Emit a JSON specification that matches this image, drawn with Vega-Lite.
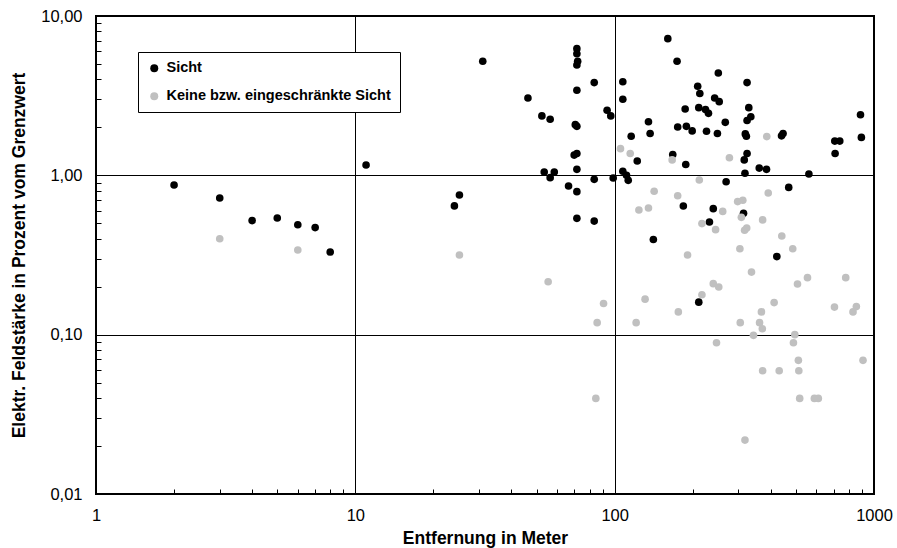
{
  "$schema": "https://vega.github.io/schema/vega-lite/v6.json",
  "width": 778,
  "height": 478,
  "autosize": {"type": "none"},
  "padding": {"left": 96, "top": 16, "right": 23, "bottom": 54},
  "background": "white",
  "data": {"values": [
    {"d": 2, "e": 0.87, "s": "Sicht"},
    {"d": 3, "e": 0.72, "s": "Sicht"},
    {"d": 4, "e": 0.52, "s": "Sicht"},
    {"d": 5, "e": 0.54, "s": "Sicht"},
    {"d": 6, "e": 0.49, "s": "Sicht"},
    {"d": 7, "e": 0.47, "s": "Sicht"},
    {"d": 8, "e": 0.33, "s": "Sicht"},
    {"d": 11, "e": 1.16, "s": "Sicht"},
    {"d": 31, "e": 5.2, "s": "Sicht"},
    {"d": 71.5, "e": 6.24, "s": "Sicht"},
    {"d": 71.5, "e": 5.8, "s": "Sicht"},
    {"d": 72, "e": 5.2, "s": "Sicht"},
    {"d": 71.5, "e": 4.93, "s": "Sicht"},
    {"d": 83.4, "e": 3.82, "s": "Sicht"},
    {"d": 107.5, "e": 3.87, "s": "Sicht"},
    {"d": 71.5, "e": 3.42, "s": "Sicht"},
    {"d": 46.3, "e": 3.06, "s": "Sicht"},
    {"d": 107.5, "e": 3.0, "s": "Sicht"},
    {"d": 52.4, "e": 2.36, "s": "Sicht"},
    {"d": 56.4, "e": 2.25, "s": "Sicht"},
    {"d": 93.5, "e": 2.56, "s": "Sicht"},
    {"d": 96.6, "e": 2.36, "s": "Sicht"},
    {"d": 70.5, "e": 2.08, "s": "Sicht"},
    {"d": 71.5, "e": 2.03, "s": "Sicht"},
    {"d": 69.8, "e": 1.34, "s": "Sicht"},
    {"d": 71.5, "e": 1.37, "s": "Sicht"},
    {"d": 71.5, "e": 1.09, "s": "Sicht"},
    {"d": 53.5, "e": 1.05, "s": "Sicht"},
    {"d": 56.4, "e": 0.967, "s": "Sicht"},
    {"d": 58.5, "e": 1.05, "s": "Sicht"},
    {"d": 66.4, "e": 0.857, "s": "Sicht"},
    {"d": 71.5, "e": 0.79, "s": "Sicht"},
    {"d": 83.4, "e": 0.944, "s": "Sicht"},
    {"d": 98.7, "e": 0.962, "s": "Sicht"},
    {"d": 71.5, "e": 0.537, "s": "Sicht"},
    {"d": 83.4, "e": 0.516, "s": "Sicht"},
    {"d": 25.2, "e": 0.753, "s": "Sicht"},
    {"d": 24.1, "e": 0.643, "s": "Sicht"},
    {"d": 122.2, "e": 1.23, "s": "Sicht"},
    {"d": 115.8, "e": 1.76, "s": "Sicht"},
    {"d": 107.5, "e": 1.06, "s": "Sicht"},
    {"d": 111.1, "e": 1.0, "s": "Sicht"},
    {"d": 112.8, "e": 0.93, "s": "Sicht"},
    {"d": 135, "e": 2.17, "s": "Sicht"},
    {"d": 137, "e": 1.83, "s": "Sicht"},
    {"d": 160.3, "e": 7.21, "s": "Sicht"},
    {"d": 174, "e": 5.2, "s": "Sicht"},
    {"d": 251, "e": 4.39, "s": "Sicht"},
    {"d": 324, "e": 3.82, "s": "Sicht"},
    {"d": 209, "e": 3.62, "s": "Sicht"},
    {"d": 213, "e": 3.26, "s": "Sicht"},
    {"d": 243, "e": 3.06, "s": "Sicht"},
    {"d": 253, "e": 2.9, "s": "Sicht"},
    {"d": 187, "e": 2.61, "s": "Sicht"},
    {"d": 211, "e": 2.66, "s": "Sicht"},
    {"d": 224, "e": 2.59, "s": "Sicht"},
    {"d": 230, "e": 2.45, "s": "Sicht"},
    {"d": 329, "e": 2.66, "s": "Sicht"},
    {"d": 324, "e": 2.21, "s": "Sicht"},
    {"d": 335, "e": 2.33, "s": "Sicht"},
    {"d": 887, "e": 2.4, "s": "Sicht"},
    {"d": 267, "e": 2.15, "s": "Sicht"},
    {"d": 175, "e": 2.01, "s": "Sicht"},
    {"d": 189, "e": 2.03, "s": "Sicht"},
    {"d": 199, "e": 1.9, "s": "Sicht"},
    {"d": 226, "e": 1.89, "s": "Sicht"},
    {"d": 249, "e": 1.83, "s": "Sicht"},
    {"d": 319, "e": 1.82, "s": "Sicht"},
    {"d": 322, "e": 1.76, "s": "Sicht"},
    {"d": 440, "e": 1.77, "s": "Sicht"},
    {"d": 446, "e": 1.83, "s": "Sicht"},
    {"d": 706, "e": 1.64, "s": "Sicht"},
    {"d": 738, "e": 1.64, "s": "Sicht"},
    {"d": 894, "e": 1.73, "s": "Sicht"},
    {"d": 708, "e": 1.37, "s": "Sicht"},
    {"d": 167.5, "e": 1.35, "s": "Sicht"},
    {"d": 188, "e": 1.17, "s": "Sicht"},
    {"d": 324, "e": 1.37, "s": "Sicht"},
    {"d": 316, "e": 1.25, "s": "Sicht"},
    {"d": 318, "e": 1.03, "s": "Sicht"},
    {"d": 361, "e": 1.11, "s": "Sicht"},
    {"d": 385, "e": 1.09, "s": "Sicht"},
    {"d": 561, "e": 1.02, "s": "Sicht"},
    {"d": 269, "e": 0.912, "s": "Sicht"},
    {"d": 469, "e": 0.84, "s": "Sicht"},
    {"d": 184, "e": 0.642, "s": "Sicht"},
    {"d": 240, "e": 0.618, "s": "Sicht"},
    {"d": 314, "e": 0.578, "s": "Sicht"},
    {"d": 232, "e": 0.509, "s": "Sicht"},
    {"d": 141, "e": 0.396, "s": "Sicht"},
    {"d": 422, "e": 0.309, "s": "Sicht"},
    {"d": 211, "e": 0.16, "s": "Sicht"},
    {"d": 3, "e": 0.4, "s": "Keine bzw. eingeschränkte Sicht"},
    {"d": 6, "e": 0.34, "s": "Keine bzw. eingeschränkte Sicht"},
    {"d": 25.2, "e": 0.316, "s": "Keine bzw. eingeschränkte Sicht"},
    {"d": 105.3, "e": 1.47, "s": "Keine bzw. eingeschränkte Sicht"},
    {"d": 114.8, "e": 1.37, "s": "Keine bzw. eingeschränkte Sicht"},
    {"d": 386, "e": 1.75, "s": "Keine bzw. eingeschränkte Sicht"},
    {"d": 166.6, "e": 1.25, "s": "Keine bzw. eingeschränkte Sicht"},
    {"d": 277, "e": 1.29, "s": "Keine bzw. eingeschränkte Sicht"},
    {"d": 212, "e": 0.935, "s": "Keine bzw. eingeschränkte Sicht"},
    {"d": 142, "e": 0.795, "s": "Keine bzw. eingeschränkte Sicht"},
    {"d": 175, "e": 0.745, "s": "Keine bzw. eingeschränkte Sicht"},
    {"d": 391, "e": 0.775, "s": "Keine bzw. eingeschränkte Sicht"},
    {"d": 124, "e": 0.606, "s": "Keine bzw. eingeschränkte Sicht"},
    {"d": 135, "e": 0.624, "s": "Keine bzw. eingeschränkte Sicht"},
    {"d": 261, "e": 0.594, "s": "Keine bzw. eingeschränkte Sicht"},
    {"d": 298, "e": 0.684, "s": "Keine bzw. eingeschränkte Sicht"},
    {"d": 312, "e": 0.697, "s": "Keine bzw. eingeschränkte Sicht"},
    {"d": 308, "e": 0.545, "s": "Keine bzw. eingeschränkte Sicht"},
    {"d": 372, "e": 0.525, "s": "Keine bzw. eingeschränkte Sicht"},
    {"d": 217, "e": 0.498, "s": "Keine bzw. eingeschränkte Sicht"},
    {"d": 245, "e": 0.456, "s": "Keine bzw. eingeschränkte Sicht"},
    {"d": 317, "e": 0.452, "s": "Keine bzw. eingeschränkte Sicht"},
    {"d": 323, "e": 0.467, "s": "Keine bzw. eingeschränkte Sicht"},
    {"d": 441, "e": 0.416, "s": "Keine bzw. eingeschränkte Sicht"},
    {"d": 304, "e": 0.346, "s": "Keine bzw. eingeschränkte Sicht"},
    {"d": 486, "e": 0.346, "s": "Keine bzw. eingeschränkte Sicht"},
    {"d": 191, "e": 0.316, "s": "Keine bzw. eingeschränkte Sicht"},
    {"d": 337, "e": 0.247, "s": "Keine bzw. eingeschränkte Sicht"},
    {"d": 55.4, "e": 0.215, "s": "Keine bzw. eingeschränkte Sicht"},
    {"d": 554, "e": 0.228, "s": "Keine bzw. eingeschränkte Sicht"},
    {"d": 778, "e": 0.228, "s": "Keine bzw. eingeschränkte Sicht"},
    {"d": 507, "e": 0.208, "s": "Keine bzw. eingeschränkte Sicht"},
    {"d": 240, "e": 0.209, "s": "Keine bzw. eingeschränkte Sicht"},
    {"d": 252, "e": 0.199, "s": "Keine bzw. eingeschränkte Sicht"},
    {"d": 217, "e": 0.178, "s": "Keine bzw. eingeschränkte Sicht"},
    {"d": 90.6, "e": 0.157, "s": "Keine bzw. eingeschränkte Sicht"},
    {"d": 131, "e": 0.167, "s": "Keine bzw. eingeschränkte Sicht"},
    {"d": 412, "e": 0.159, "s": "Keine bzw. eingeschränkte Sicht"},
    {"d": 176, "e": 0.139, "s": "Keine bzw. eingeschränkte Sicht"},
    {"d": 368, "e": 0.139, "s": "Keine bzw. eingeschränkte Sicht"},
    {"d": 704, "e": 0.149, "s": "Keine bzw. eingeschränkte Sicht"},
    {"d": 855, "e": 0.15, "s": "Keine bzw. eingeschränkte Sicht"},
    {"d": 830, "e": 0.139, "s": "Keine bzw. eingeschränkte Sicht"},
    {"d": 85.6, "e": 0.119, "s": "Keine bzw. eingeschränkte Sicht"},
    {"d": 121, "e": 0.119, "s": "Keine bzw. eingeschränkte Sicht"},
    {"d": 305, "e": 0.119, "s": "Keine bzw. eingeschränkte Sicht"},
    {"d": 362, "e": 0.119, "s": "Keine bzw. eingeschränkte Sicht"},
    {"d": 371, "e": 0.109, "s": "Keine bzw. eingeschränkte Sicht"},
    {"d": 343, "e": 0.099, "s": "Keine bzw. eingeschränkte Sicht"},
    {"d": 495, "e": 0.1, "s": "Keine bzw. eingeschränkte Sicht"},
    {"d": 489, "e": 0.089, "s": "Keine bzw. eingeschränkte Sicht"},
    {"d": 247, "e": 0.089, "s": "Keine bzw. eingeschränkte Sicht"},
    {"d": 511, "e": 0.069, "s": "Keine bzw. eingeschränkte Sicht"},
    {"d": 907, "e": 0.069, "s": "Keine bzw. eingeschränkte Sicht"},
    {"d": 372, "e": 0.0594, "s": "Keine bzw. eingeschränkte Sicht"},
    {"d": 431, "e": 0.0594, "s": "Keine bzw. eingeschränkte Sicht"},
    {"d": 513, "e": 0.0594, "s": "Keine bzw. eingeschränkte Sicht"},
    {"d": 84.6, "e": 0.0398, "s": "Keine bzw. eingeschränkte Sicht"},
    {"d": 517, "e": 0.0398, "s": "Keine bzw. eingeschränkte Sicht"},
    {"d": 589, "e": 0.0398, "s": "Keine bzw. eingeschränkte Sicht"},
    {"d": 610, "e": 0.0398, "s": "Keine bzw. eingeschränkte Sicht"},
    {"d": 318, "e": 0.0218, "s": "Keine bzw. eingeschränkte Sicht"}
  ]},
  "mark": {"type": "circle", "size": 58, "opacity": 1},
  "encoding": {
    "x": {
      "field": "d", "type": "quantitative",
      "scale": {"type": "log", "domain": [1, 1000], "nice": false},
      "axis": {
        "title": "Entfernung in Meter",
        "values": [1,2,3,4,5,6,7,8,9,10,20,30,40,50,60,70,80,90,100,200,300,400,500,600,700,800,900,1000],
        "labelExpr": "(datum.value == 1 || datum.value == 10 || datum.value == 100 || datum.value == 1000) ? format(datum.value, 'd') : ''",
        "gridOpacity": {"condition": {"test": "datum.value == 1 || datum.value == 10 || datum.value == 100 || datum.value == 1000", "value": 1}, "value": 0},
        "ticks": true, "tickColor": "#000000", "tickSize": -5, "tickWidth": 1,
        "labelPadding": 18,
        "titlePadding": 6
      }
    },
    "y": {
      "field": "e", "type": "quantitative",
      "scale": {"type": "log", "domain": [0.01, 10], "nice": false},
      "axis": {
        "title": "Elektr. Feldstärke in Prozent vom Grenzwert",
        "values": [0.01,0.02,0.03,0.04,0.05,0.06,0.07,0.08,0.09,0.1,0.2,0.3,0.4,0.5,0.6,0.7,0.8,0.9,1,2,3,4,5,6,7,8,9,10],
        "labelExpr": "(datum.value == 0.01 || datum.value == 0.1 || datum.value == 1 || datum.value == 10) ? replace(format(datum.value, '.2f'), '.', ',') : ''",
        "gridOpacity": {"condition": {"test": "datum.value == 0.01 || datum.value == 0.1 || datum.value == 1 || datum.value == 10", "value": 1}, "value": 0},
        "ticks": true, "tickColor": "#000000", "tickSize": -5, "tickWidth": 1,
        "labelPadding": 19,
        "titlePadding": 12
      }
    },
    "color": {
      "field": "s", "type": "nominal",
      "scale": {"domain": ["Sicht", "Keine bzw. eingeschränkte Sicht"], "range": ["#000000", "#c0c0c0"]},
      "legend": {
        "orient": "none", "legendX": 42, "legendY": 36, "title": null,
        "strokeColor": "#000000", "fillColor": "#ffffff", "padding": 9,
        "labelFont": "Liberation Sans", "labelFontSize": 14.5, "labelFontWeight": "bold", "labelColor": "#000000",
        "labelLimit": 400,
        "symbolType": "circle", "symbolSize": 64, "symbolStrokeWidth": 0, "symbolOpacity": 1,
        "rowPadding": 13, "labelOffset": 5
      }
    },
    "order": {"field": "s", "sort": "descending"}
  },
  "config": {
    "view": {"stroke": "#000000", "strokeWidth": 2},
    "axis": {
      "domain": false,
      "grid": true,
      "gridColor": "#000000",
      "gridWidth": 1,
      "labelFont": "Liberation Sans",
      "labelFontSize": 16.5,
      "labelColor": "#000000",
      "labelFlush": false,
      "labelOverlap": false,
      "titleFont": "Liberation Sans",
      "titleFontSize": 17.5,
      "titleFontWeight": "bold",
      "titleColor": "#000000"
    }
  }
}
